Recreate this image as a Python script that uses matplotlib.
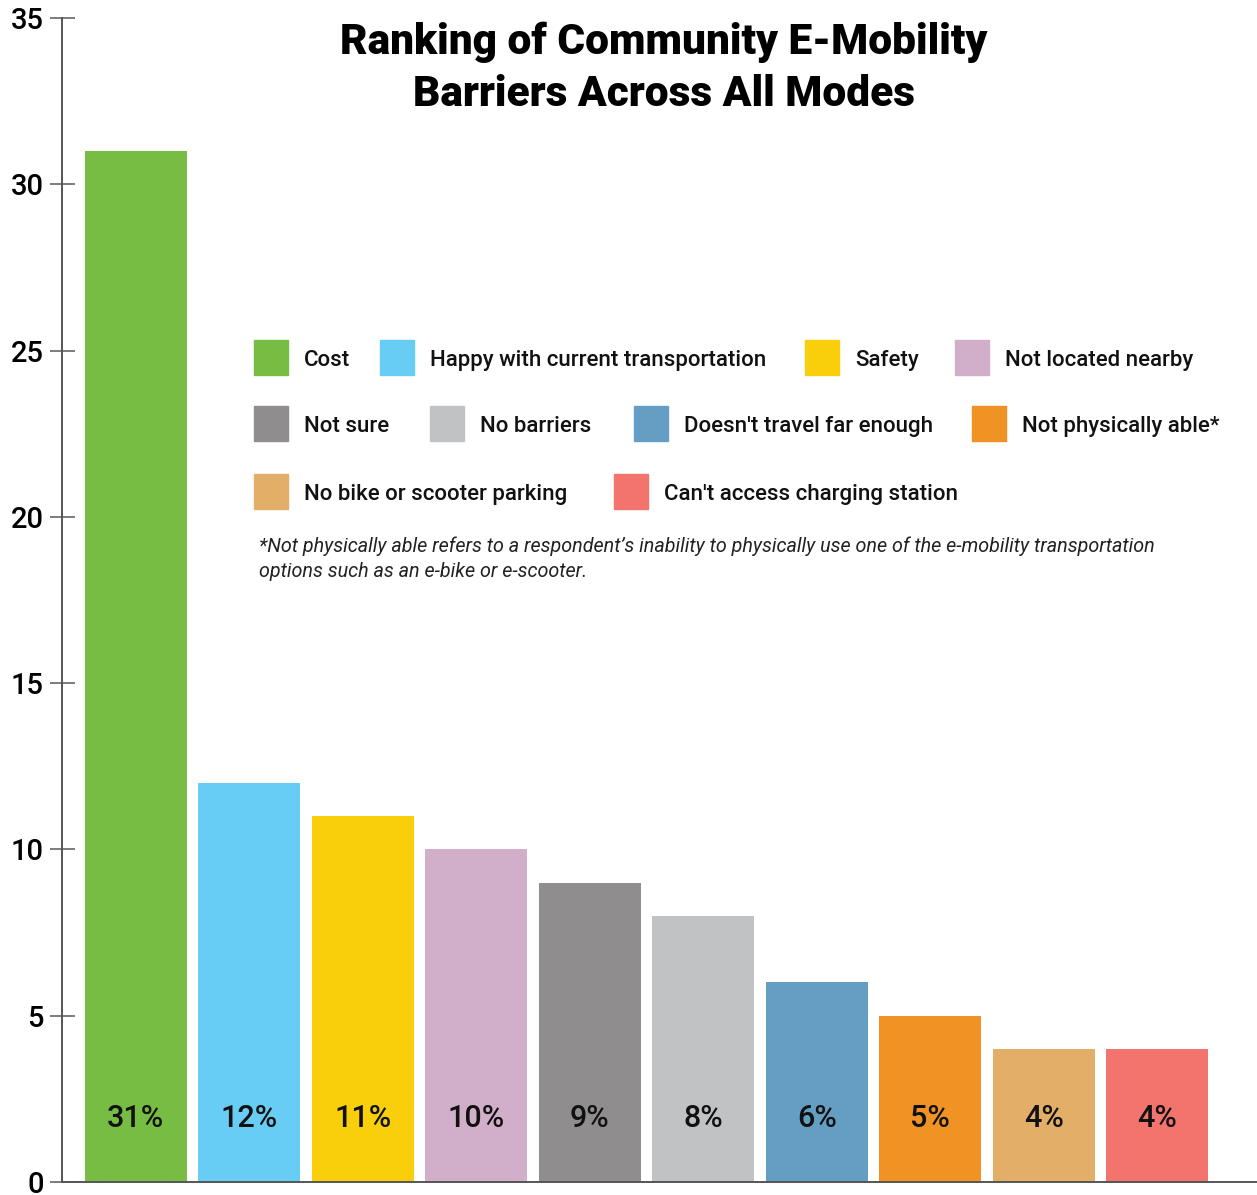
import matplotlib.pyplot as plt
from matplotlib.patches import Rectangle

# Survey results: share of respondents naming each barrier
barriers = ['Cost', 'Happy with current transportation', 'Safety', 'Not located nearby',
            'Not sure', 'No barriers', "Doesn't travel far enough", 'Not physically able*',
            'No bike or scooter parking', "Can't access charging station"]
shares = [31, 12, 11, 10, 9, 8, 6, 5, 4, 4]
share_labels = ['31%', '12%', '11%', '10%', '9%', '8%', '6%', '5%', '4%', '4%']
colors = ['#77bd43', '#68cdf4', '#f9ce0b', '#d1aec9', '#8f8d8e',
          '#c1c2c4', '#659ec3', '#f09224', '#e2ae68', '#f2746d']
y_ticks = [0, 5, 10, 15, 20, 25, 30, 35]

plt.rcParams['font.family'] = ['Roboto', 'Liberation Sans', 'DejaVu Sans']

W, H = 1257, 1195
fig = plt.figure(figsize=(W / 100, H / 100), dpi=100)
ax = fig.add_axes([62 / W, 13 / H, 1 - 62 / W, (1182 - 18) / H])

x = range(len(shares))
ax.bar(x, shares, width=0.9, color=colors)
for i, lab in enumerate(share_labels):
    ax.text(i, 1.9, lab, ha='center', va='center', fontsize=22,
            fontweight='medium', color='#111111')

ax.set_ylim(0, 35)
ax.set_xlim(-0.65, 9.88)
ax.set_yticks(y_ticks)
ax.set_xticks([])
ax.tick_params(axis='y', direction='inout', length=18, width=1.2, color='#666666',
               labelsize=21, pad=4)
for lab in ax.get_yticklabels():
    lab.set_fontweight('medium')
for s in ['top', 'right']:
    ax.spines[s].set_visible(False)
for s in ['left', 'bottom']:
    ax.spines[s].set_color('#555555')
    ax.spines[s].set_linewidth(1.4)

fig.text(664 / W, 1 - 68 / H, 'Ranking of Community E-Mobility\nBarriers Across All Modes',
         ha='center', va='center', fontsize=30.5, fontweight='black', linespacing=1.35)

# legend laid out in three rows, left edge of each swatch in pixels
rows = [(358, [0, 1, 2, 3], [254, 380, 805, 955]),
        (424, [4, 5, 6, 7], [254, 430, 634, 972]),
        (492, [8, 9], [254, 614])]
for yc, idx, xs in rows:
    for i, x0 in zip(idx, xs):
        fig.patches.append(Rectangle((x0 / W, (H - yc - 17) / H), 34 / W, 35 / H,
                                     transform=fig.transFigure, color=colors[i]))
        fig.text((x0 + 50) / W, 1 - (yc + 8) / H, barriers[i], ha='left', va='baseline',
                 fontsize=16, fontweight='medium', color='#111111')

fig.text(259 / W, 1 - 559 / H,
         "*Not physically able refers to a respondent\u2019s inability to physically use one of the e-mobility transportation\n"
         "options such as an e-bike or e-scooter.",
         ha='left', va='center', fontsize=14.2, style='italic', color='#222222',
         linespacing=1.4)

fig.savefig('out.png', dpi=100)
